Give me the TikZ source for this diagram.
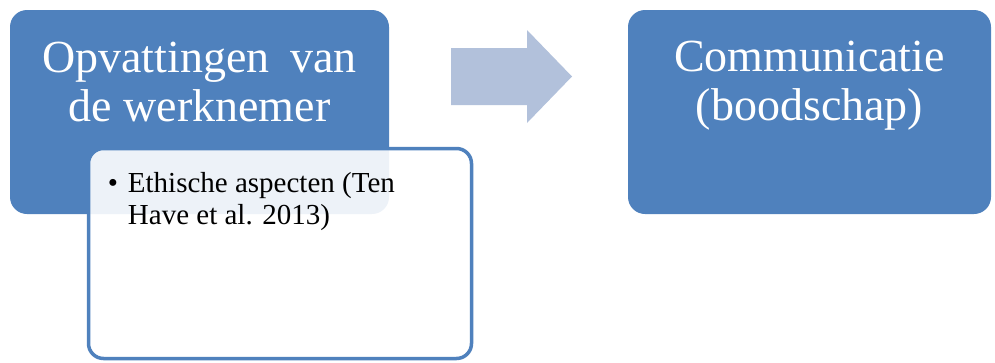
\documentclass[tikz,border=0pt]{standalone}
\usepackage{fontspec}
\setmainfont{Liberation Serif}
\usetikzlibrary{positioning}
\definecolor{accent}{HTML}{4F81BD}
\definecolor{arrowblue}{HTML}{B2C1DB}
\tikzset{
  bigbox/.style = {fill=accent, rounded corners=17pt, inner sep=0pt, minimum height=204pt},
  bigtext/.style = {text=white, align=center, inner sep=0pt, font=\fontsize{46}{49}\selectfont},
  subbox/.style = {draw=accent, line width=3.5pt, fill=white, fill opacity=0.9, rounded corners=15pt,
                   inner sep=0pt, minimum width=383pt, minimum height=210pt},
  subtext/.style = {align=left, inner sep=0pt, font=\fontsize{29}{32}\selectfont}
}

\begin{document}
\begin{tikzpicture}[x=1pt, y=-1pt]
\useasboundingbox (0,0) rectangle (995,362);
\node[bigbox, minimum width=379pt] (op) at (199.5,112) {};
\node[bigtext, below=32pt of op.north] (optxt) {Opvattingen\hspace{0.45em}van\\de werknemer};
\node[bigbox, minimum width=363pt] (com) at (809.5,112) {};
\node[bigtext, below=31pt of com.north] (comtxt) {Communicatie\\(boodschap)};
\node[subbox] (eth) at (280,253.5) {};
\node[subtext, below right=25pt and 21pt of eth.north west] (ethtxt)
  {\makebox[20pt][l]{\textbullet}Ethische aspecten (Ten\\\hspace*{20pt}Have et al. 2013)};
% arrow between the two boxes
\fill[arrowblue] (451,48) -- (527,48) -- (527,30) -- (572,76.5) -- (527,123) -- (527,105) -- (451,105) -- cycle;
\end{tikzpicture}
\end{document}
